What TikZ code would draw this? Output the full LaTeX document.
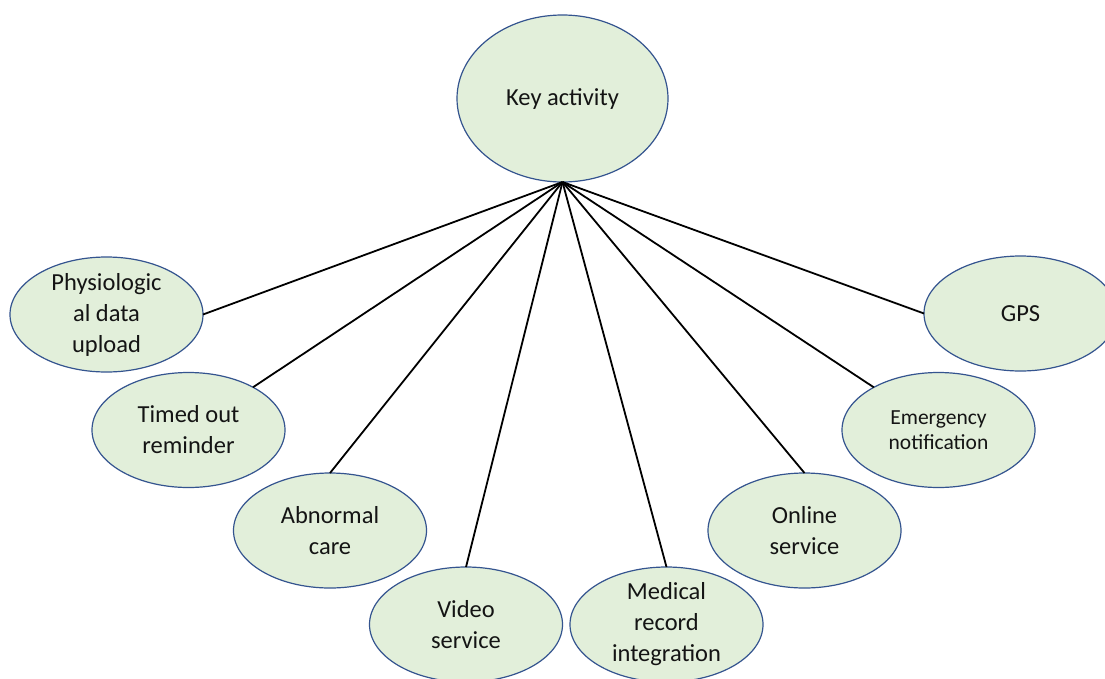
\documentclass[tikz,border=0pt]{standalone}
\usepackage{fontspec}
\setmainfont{Carlito}
\usetikzlibrary{shapes.geometric}
\definecolor{bubfill}{HTML}{E2EFDA}
\definecolor{bubedge}{HTML}{34548F}
\tikzset{
  bub/.style={ellipse, draw=bubedge, fill=bubfill, line width=1.2pt,
    minimum width=193pt, minimum height=115pt, inner sep=0pt, outer sep=0pt},
  txt/.style={align=center, font=\fontsize{24.5}{31}\selectfont, text=black!92, inner sep=0pt},
  smalltxt/.style={align=center, font=\fontsize{21.5}{25.5}\selectfont, text=black!92, inner sep=0pt},
  link/.style={draw=black, line width=1.8pt}
}
\begin{document}
\begin{tikzpicture}[x=1pt, y=-1pt]
\clip (0,0) rectangle (1105,678);
\fill[white] (0,0) rectangle (1105,678);

% central activity
\node[bub, minimum width=211pt, minimum height=167pt,
      label={[txt]center:Key activity}] (key) at (562.5,98.5) {};

% surrounding activities
\node[bub, label={[txt]center:Physiologic\\al data\\upload}] (phys) at (106.5,314.5) {};
\node[bub, label={[txt]center:Timed out\\reminder}] (timed) at (188.5,430) {};
\node[bub, label={[txt]center:Abnormal\\care}] (abn) at (330,530.5) {};
\node[bub, label={[txt]center:Video\\service}] (video) at (466,624.5) {};
\node[bub, label={[txt]center:Medical\\record\\integration}] (med) at (666.5,624.5) {};
\node[bub, label={[txt]center:Online\\service}] (online) at (804.5,530.5) {};
\node[bub, label={[smalltxt]center:Emergency\\notification}] (emer) at (938.5,430) {};
\node[bub, label={[txt]center:GPS}] (gps) at (1020.5,313.5) {};

% connectors from the hub
\draw[link] (key.south) -- (phys.east);
\draw[link] (key.south) -- (timed);
\draw[link] (key.south) -- (abn.north);
\draw[link] (key.south) -- (video.north);
\draw[link] (key.south) -- (med.north);
\draw[link] (key.south) -- (online.north);
\draw[link] (key.south) -- (emer);
\draw[link] (key.south) -- (gps.west);
\end{tikzpicture}
\end{document}
